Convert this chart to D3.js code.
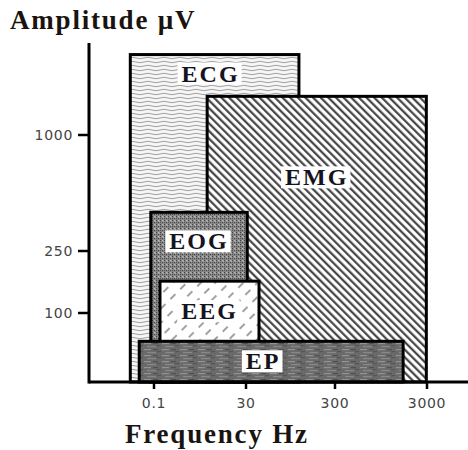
<!DOCTYPE html>
<html>
<head>
<meta charset="utf-8">
<script src="https://cdn.jsdelivr.net/npm/d3@7"></script>
<style>
  html, body { margin: 0; padding: 0; background: #fff; }
</style>
</head>
<body>
<div id="chart"></div>
<script>
// signals (drawing order = back to front)
const signals = ["ECG", "EMG", "EOG", "EEG", "EP"];
// frequency band, Hz (low / high edge)
const freqLow  = [0.023, 2.7, 0.082, 0.145, 0.04];
const freqHigh = [118, 2950, 31, 42, 1650];
// amplitude, µV (top of each box; all boxes start at 0)
const ampHigh  = [1520, 1250, 500, 177, 59];

const xTicks = [0.1, 30, 300, 3000];
const xTickLabels = ["0.1", "30", "300", "3000"];
const yTicks = [100, 250, 1000];
const yTickLabels = ["100", "250", "1000"];

const width = 468, height = 450;

const svg = d3.select("#chart")
    .append("svg")
    .attr("width", width)
    .attr("height", height);

// axis is not log-uniform in the figure, so use a piecewise scale on log10(f)
const xLog = d3.scaleLinear()
    .domain(xTicks.map(Math.log10))
    .range([154, 246, 335, 427]);
const x = f => xLog(Math.log10(f));

const y = d3.scaleLinear()
    .domain([0].concat(yTicks))
    .range([382, 313, 251, 135]);

// ---- fill patterns ----
const defs = svg.append("defs");

// ECG: wavy grey lines
const pEcg = defs.append("pattern")
    .attr("id", "p-ECG")
    .attr("patternUnits", "userSpaceOnUse")
    .attr("width", 16).attr("height", 4);
pEcg.append("rect").attr("width", 16).attr("height", 4).attr("fill", "#f6f6f6");
pEcg.append("path")
    .attr("d", "M0 2 Q4 0.6 8 2 T16 2")
    .attr("fill", "none")
    .attr("stroke", "#a0a0a0")
    .attr("stroke-width", 1);

// EMG: dense "\" hatching
const pEmg = defs.append("pattern")
    .attr("id", "p-EMG")
    .attr("patternUnits", "userSpaceOnUse")
    .attr("width", 5.4).attr("height", 10)
    .attr("patternTransform", "rotate(-45)");
pEmg.append("rect").attr("width", 5.4).attr("height", 10).attr("fill", "#fff");
pEmg.append("line")
    .attr("x1", 1.2).attr("x2", 1.2).attr("y1", 0).attr("y2", 10)
    .attr("stroke", "#3a3a3a")
    .attr("stroke-width", 2.1);

// EOG: dark stipple
const pEog = defs.append("pattern")
    .attr("id", "p-EOG")
    .attr("patternUnits", "userSpaceOnUse")
    .attr("width", 4).attr("height", 4);
pEog.append("rect").attr("width", 4).attr("height", 4).attr("fill", "#8c8c8c");
[[0, 0, "#444"], [2, 2, "#444"], [2, 0, "#bdbdbd"], [0, 2, "#5a5a5a"], [3, 1, "#aaa"]].forEach(d => {
    pEog.append("rect").attr("x", d[0]).attr("y", d[1])
        .attr("width", 1.2).attr("height", 1.2).attr("fill", d[2]);
});

// EEG: sparse dashed "/" strokes
const pEeg = defs.append("pattern")
    .attr("id", "p-EEG")
    .attr("patternUnits", "userSpaceOnUse")
    .attr("width", 10).attr("height", 14)
    .attr("patternTransform", "rotate(45)");
pEeg.append("rect").attr("width", 10).attr("height", 14).attr("fill", "#fff");
pEeg.append("line")
    .attr("x1", 2).attr("x2", 2).attr("y1", 0).attr("y2", 7)
    .attr("stroke", "#8a8a8a")
    .attr("stroke-width", 1.6);

// EP: dark grey with horizontal streaks
const pEp = defs.append("pattern")
    .attr("id", "p-EP")
    .attr("patternUnits", "userSpaceOnUse")
    .attr("width", 18).attr("height", 6);
pEp.append("rect").attr("width", 18).attr("height", 6).attr("fill", "#6a6a6a");
[[0, 1, 7, "#939393"], [9, 1, 5, "#505050"], [3, 4, 9, "#888"], [13, 3, 4, "#555"]].forEach(d => {
    pEp.append("rect").attr("x", d[0]).attr("y", d[1])
        .attr("width", d[2]).attr("height", 1.2).attr("fill", d[3]);
});

// ---- boxes ----
const boxes = signals.map((s, i) => ({
    name: s, lo: freqLow[i], hi: freqHigh[i], amp: ampHigh[i]
}));

svg.append("g").selectAll("rect")
    .data(boxes)
    .enter()
    .append("rect")
    .attr("x", d => x(d.lo))
    .attr("y", d => y(d.amp))
    .attr("width", d => x(d.hi) - x(d.lo))
    .attr("height", d => y(0) - y(d.amp))
    .attr("fill", d => "url(#p-" + d.name + ")")
    .attr("stroke", "#000")
    .attr("stroke-width", 3);

// label offset from box top (px)
const labelDy = { ECG: 19, EMG: 81, EOG: 29, EEG: 30, EP: 20 };
const labelDx = { ECG: -4, EMG: 0, EOG: 0, EEG: 0, EP: -8 };

const labels = svg.append("g");
boxes.forEach(d => {
    const cx = (x(d.lo) + x(d.hi)) / 2 + labelDx[d.name];
    const cy = y(d.amp) + labelDy[d.name];
    const g = labels.append("g");
    const bg = g.append("rect").attr("fill", "#fff");
    const t = g.append("text")
        .attr("x", cx)
        .attr("y", cy)
        .attr("text-anchor", "middle")
        .attr("dominant-baseline", "central")
        .style("font-family", "'Liberation Serif', 'DejaVu Serif', serif")
        .style("font-weight", "bold")
        .style("font-size", "24px")
        .style("letter-spacing", "2px")
        .attr("fill", "#141420")
        .text(d.name);
    const b = t.node().getBBox();
    bg.attr("x", b.x - 4).attr("y", b.y + 2)
        .attr("width", b.width + 6).attr("height", b.height - 4);
});

// ---- axes ----
const axisG = svg.append("g");
axisG.append("line")
    .attr("x1", 89).attr("x2", 89).attr("y1", 43).attr("y2", y(0) + 1.5)
    .attr("stroke", "#000").attr("stroke-width", 3);
axisG.append("line")
    .attr("x1", 89).attr("x2", width).attr("y1", y(0)).attr("y2", y(0))
    .attr("stroke", "#000").attr("stroke-width", 3);

axisG.selectAll(".ytick")
    .data(yTicks)
    .enter()
    .append("line")
    .attr("x1", 78).attr("x2", 89)
    .attr("y1", d => y(d)).attr("y2", d => y(d))
    .attr("stroke", "#000").attr("stroke-width", 2.5);

axisG.selectAll(".ylab")
    .data(yTicks)
    .enter()
    .append("text")
    .attr("x", 73)
    .attr("y", d => y(d))
    .attr("text-anchor", "end")
    .attr("dominant-baseline", "central")
    .style("font-family", "'DejaVu Sans', sans-serif")
    .style("font-size", "14px")
    .style("letter-spacing", "0.7px")
    .attr("fill", "#444")
    .text((d, i) => yTickLabels[i]);

axisG.selectAll(".xtick")
    .data(xTicks)
    .enter()
    .append("line")
    .attr("x1", d => x(d)).attr("x2", d => x(d))
    .attr("y1", y(0)).attr("y2", y(0) + 7)
    .attr("stroke", "#000").attr("stroke-width", 2.5);

axisG.selectAll(".xlab")
    .data(xTicks)
    .enter()
    .append("text")
    .attr("x", d => x(d))
    .attr("y", 403)
    .attr("text-anchor", "middle")
    .attr("dominant-baseline", "central")
    .style("font-family", "'DejaVu Sans', sans-serif")
    .style("font-size", "14px")
    .style("letter-spacing", "0.7px")
    .attr("fill", "#444")
    .text((d, i) => xTickLabels[i]);

// ---- axis titles ----
svg.append("text")
    .attr("x", 10)
    .attr("y", 29)
    .style("font-family", "'Liberation Serif', 'DejaVu Serif', serif")
    .style("font-weight", "bold")
    .style("font-size", "27px")
    .style("letter-spacing", "1.8px")
    .attr("fill", "#1a1410")
    .text("Amplitude µV");

svg.append("text")
    .attr("x", 125)
    .attr("y", 443)
    .style("font-family", "'Liberation Serif', 'DejaVu Serif', serif")
    .style("font-weight", "bold")
    .style("font-size", "27px")
    .style("letter-spacing", "1.8px")
    .attr("fill", "#1a1410")
    .text("Frequency Hz");
</script>
</body>
</html>
